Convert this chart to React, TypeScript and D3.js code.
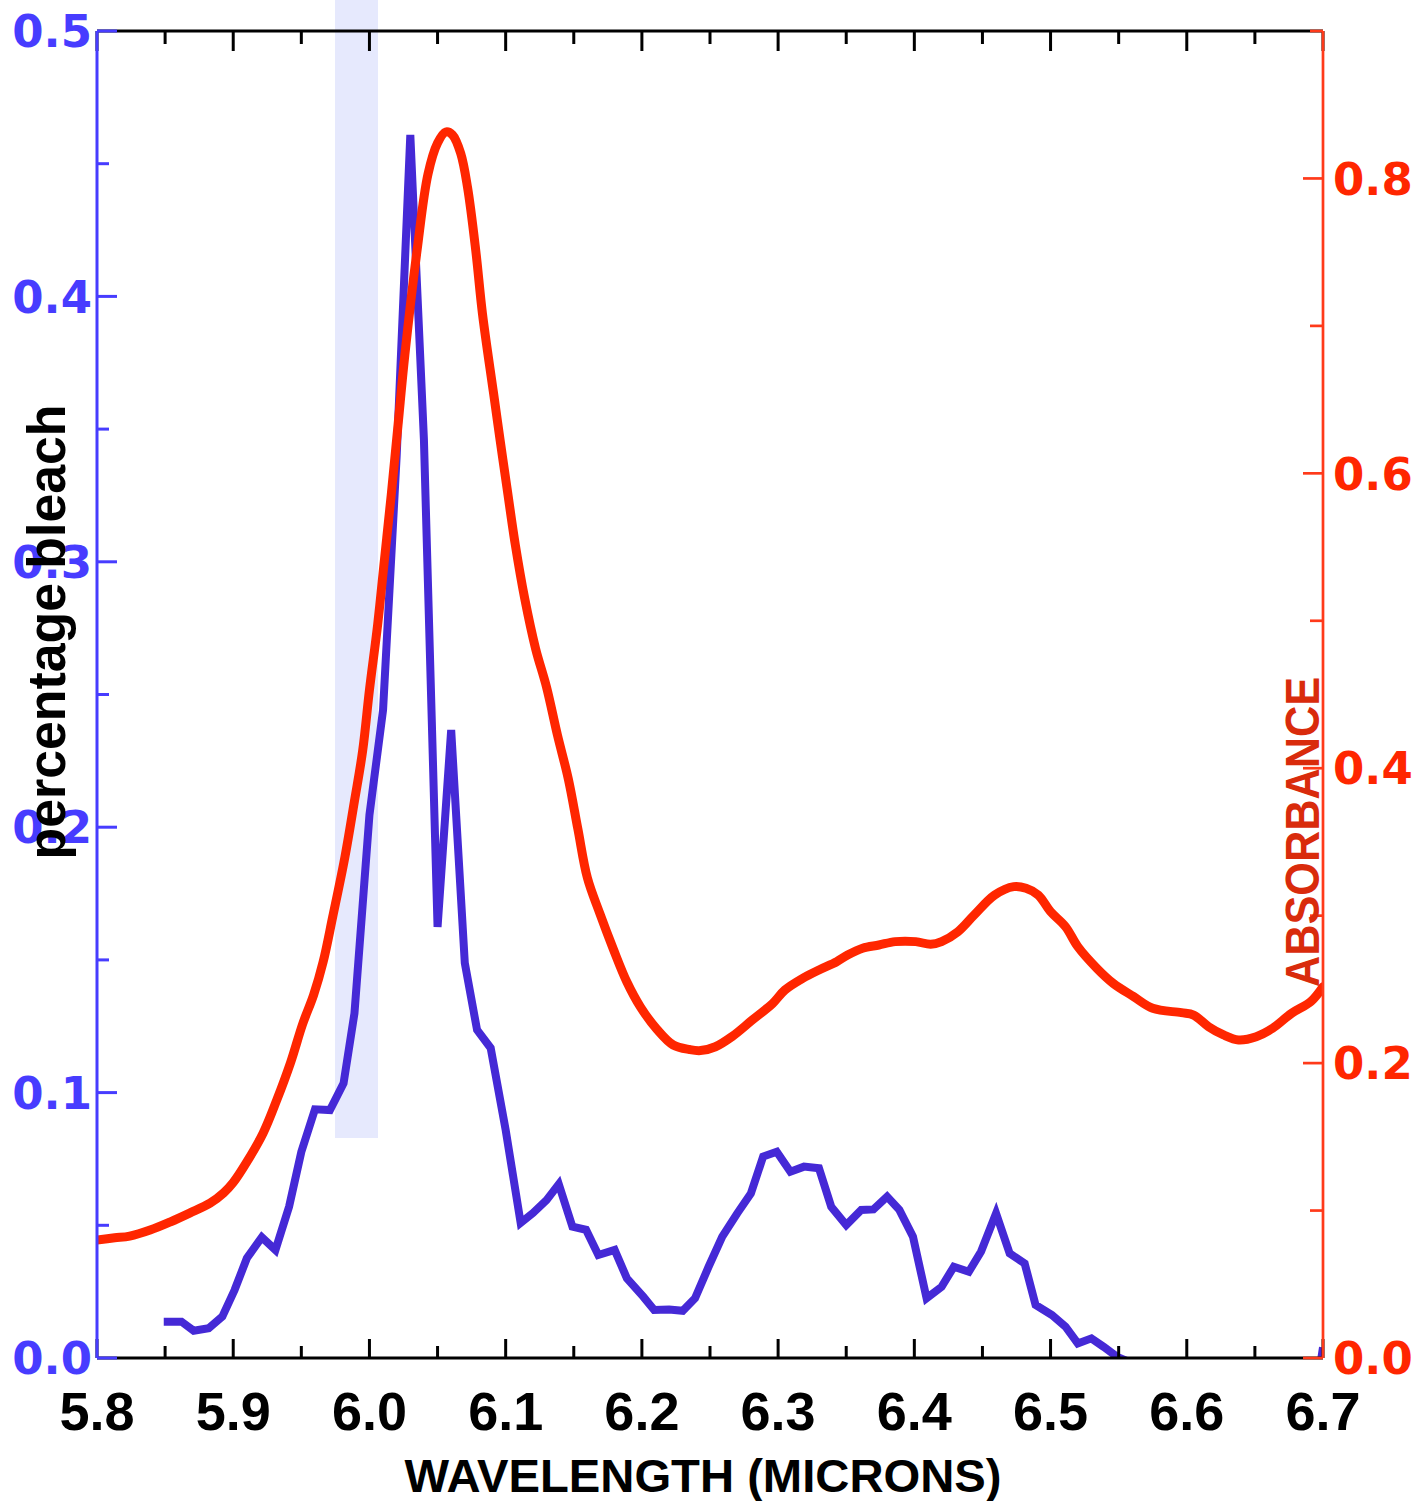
import React from "react";
import * as d3 from "d3";

// Blue series: percentage bleach vs wavelength (microns)
const bleachWavelength = [
  5.849, 5.862, 5.871, 5.882, 5.892, 5.901, 5.91, 5.921, 5.931, 5.941, 5.95, 5.96, 5.971, 5.981, 5.989,
  6.0, 6.01, 6.02, 6.03, 6.04, 6.05, 6.06, 6.07, 6.079, 6.089, 6.1, 6.111, 6.12, 6.13, 6.139, 6.149,
  6.159, 6.168, 6.18, 6.189, 6.201, 6.209, 6.22, 6.23, 6.239, 6.249, 6.259, 6.27, 6.28, 6.289, 6.299,
  6.309, 6.319, 6.33, 6.339, 6.35, 6.361, 6.37, 6.38, 6.389, 6.399, 6.409, 6.42, 6.429, 6.44, 6.449,
  6.46, 6.47, 6.481, 6.489, 6.501, 6.511, 6.52, 6.53, 6.539, 6.549, 6.69, 6.7,
];
const bleachValue = [
  0.0137, 0.0137, 0.0103, 0.0112, 0.0156, 0.0256, 0.0376, 0.0455, 0.0407, 0.057, 0.0777, 0.0937, 0.0934, 0.1035, 0.1299,
  0.2046, 0.2442, 0.34, 0.4608, 0.3459, 0.1624, 0.2366, 0.1488, 0.1236, 0.1168, 0.0859, 0.0509, 0.0546, 0.0595, 0.0655, 0.0495,
  0.0483, 0.0388, 0.0407, 0.03, 0.0231, 0.0181, 0.0183, 0.0178, 0.0225, 0.0344, 0.0457, 0.0545, 0.062, 0.0759, 0.0777,
  0.0702, 0.0721, 0.0715, 0.057, 0.0501, 0.0558, 0.056, 0.0608, 0.0558, 0.0457, 0.0225, 0.0268, 0.0344, 0.0325, 0.0401,
  0.0545, 0.0394, 0.0356, 0.02, 0.0162, 0.0118, 0.0055, 0.0074, 0.0042, 0.0004, -0.03, 0.004,
];

// Red series: absorbance vs wavelength (microns)
const absWavelength = [
  5.8, 5.813, 5.824, 5.839, 5.854, 5.868, 5.883, 5.893, 5.9, 5.91, 5.922, 5.932, 5.942, 5.951, 5.959,
  5.966, 5.973, 5.982, 5.989, 5.995, 6.0, 6.006, 6.011, 6.016, 6.021, 6.026, 6.035, 6.043, 6.05, 6.056, 6.061,
  6.067, 6.072, 6.078, 6.083, 6.091, 6.096, 6.101, 6.107, 6.114, 6.122, 6.13, 6.138, 6.146, 6.153, 6.16,
  6.169, 6.179, 6.189, 6.199, 6.211, 6.223, 6.235, 6.243, 6.254, 6.266, 6.281, 6.296, 6.305, 6.318, 6.33,
  6.343, 6.351, 6.362, 6.374, 6.386, 6.401, 6.412, 6.42, 6.432, 6.444, 6.459, 6.473, 6.482, 6.491, 6.5,
  6.511, 6.52, 6.534, 6.546, 6.561, 6.575, 6.596, 6.605, 6.616, 6.627, 6.638, 6.651, 6.663, 6.677, 6.691, 6.7,
];
const absValue = [
  0.08, 0.0815, 0.0827, 0.0868, 0.0924, 0.0983, 0.105, 0.112, 0.119, 0.133, 0.1526, 0.175, 0.2001, 0.2266, 0.2462,
  0.2686, 0.2991, 0.3398, 0.3778, 0.4117, 0.4531, 0.4972, 0.5413, 0.5854, 0.6329, 0.6804, 0.7515, 0.803, 0.824, 0.8315, 0.8295,
  0.817, 0.794, 0.7515, 0.708, 0.655, 0.622, 0.59, 0.552, 0.515, 0.481, 0.455, 0.4225, 0.3927, 0.3588, 0.3256,
  0.3018, 0.2774, 0.255, 0.238, 0.223, 0.2123, 0.2092, 0.2085, 0.2111, 0.2179, 0.2292, 0.2405, 0.2496, 0.2575, 0.2632,
  0.2688, 0.2733, 0.2779, 0.2801, 0.2824, 0.2824, 0.2806, 0.2824, 0.2891, 0.3005, 0.314, 0.3197, 0.3186, 0.314, 0.3027,
  0.2925, 0.279, 0.2643, 0.2541, 0.2451, 0.2372, 0.2342, 0.2326, 0.2247, 0.2191, 0.2157, 0.2179, 0.2236, 0.2338, 0.2417, 0.2518,
];

// Highlighted band (wavelength range, bleach range)
const bandWavelength = [5.9747, 6.0063];
const bandBleach = [0.0829, 0.512];

// Ticks
const xMajorTicks = [5.8, 5.9, 6.0, 6.1, 6.2, 6.3, 6.4, 6.5, 6.6, 6.7];
const xTickLabels = ["5.8", "5.9", "6.0", "6.1", "6.2", "6.3", "6.4", "6.5", "6.6", "6.7"];
const xMinorTicks = [5.85, 5.95, 6.05, 6.15, 6.25, 6.35, 6.45, 6.55, 6.65];
const leftMajorTicks = [0, 0.1, 0.2, 0.3, 0.4, 0.5];
const leftTickLabels = ["0.0", "0.1", "0.2", "0.3", "0.4", "0.5"];
const leftMinorTicks = [0.05, 0.15, 0.25, 0.35, 0.45];
const rightMajorTicks = [0, 0.2, 0.4, 0.6, 0.8];
const rightTickLabels = ["0.0", "0.2", "0.4", "0.6", "0.8"];
const rightMinorTicks = [0.1, 0.3, 0.5, 0.7, 0.9];

const W = 1413;
const H = 1501;
const L = 97;
const R = 1323;
const T = 31;
const B = 1358;

const BLUE_AXIS = "#473cff";
const BLUE_LINE = "#4529d6";
const RED_LINE = "#ff2600";
const RED_AXIS = "#ff3a1a";
const TITLE_FONT = "'Comic Sans MS', 'Liberation Sans', Arial, sans-serif";
const TICK_FONT = "'DejaVu Sans', Verdana, sans-serif";

export default function App() {
  const x = d3.scaleLinear().domain([5.8, 6.7]).range([L, R]);
  const yL = d3.scaleLinear().domain([0, 0.5]).range([B, T]);
  const yR = d3.scaleLinear().domain([0, 0.9]).range([B, T]);

  const bluePts: [number, number][] = bleachWavelength.map((w, i) => [w, bleachValue[i]]);
  const redPts: [number, number][] = absWavelength.map((w, i) => [w, absValue[i]]);

  const blueLine = d3
    .line<[number, number]>()
    .x((d) => x(d[0]))
    .y((d) => yL(d[1]))
    .curve(d3.curveLinear);
  const redLine = d3
    .line<[number, number]>()
    .x((d) => x(d[0]))
    .y((d) => yR(d[1]))
    .curve(d3.curveCatmullRom.alpha(0.5));

  return (
    <svg
      width={W}
      height={H}
      viewBox={`0 0 ${W} ${H}`}
      style={{ position: "absolute", left: 0, top: 0, display: "block", background: "#fff" }}
    >
      <defs>
        <clipPath id="plotClip">
          <rect x={L} y={T} width={R - L} height={B - T} />
        </clipPath>
      </defs>
      <rect x={0} y={0} width={W} height={H} fill="#fff" />

      {/* highlight band */}
      <rect
        x={x(bandWavelength[0])}
        y={yL(bandBleach[1])}
        width={x(bandWavelength[1]) - x(bandWavelength[0])}
        height={yL(bandBleach[0]) - yL(bandBleach[1])}
        fill="#e6e9fd"
      />

      {/* curves */}
      <g clipPath="url(#plotClip)">
        <path d={blueLine(bluePts) || ""} fill="none" stroke={BLUE_LINE} strokeWidth={8} strokeLinejoin="miter" />
        <path d={redLine(redPts) || ""} fill="none" stroke={RED_LINE} strokeWidth={9} strokeLinejoin="round" strokeLinecap="round" />
      </g>

      {/* black top/bottom axes */}
      <line x1={L} x2={R} y1={B} y2={B} stroke="#000" strokeWidth={3} />
      <line x1={L} x2={R} y1={T} y2={T} stroke="#000" strokeWidth={3} />
      {xMajorTicks.map((t) => (
        <g key={"xM" + t}>
          <line x1={x(t)} x2={x(t)} y1={B} y2={B - 19} stroke="#000" strokeWidth={3} />
          <line x1={x(t)} x2={x(t)} y1={T} y2={T + 20} stroke="#000" strokeWidth={3} />
        </g>
      ))}
      {xMinorTicks.map((t) => (
        <g key={"xm" + t}>
          <line x1={x(t)} x2={x(t)} y1={B} y2={B - 12} stroke="#000" strokeWidth={3} />
          <line x1={x(t)} x2={x(t)} y1={T} y2={T + 13} stroke="#000" strokeWidth={3} />
        </g>
      ))}
      {xMajorTicks.map((t, i) => (
        <text
          key={"xl" + t}
          x={x(t)}
          y={1430}
          textAnchor="middle"
          fontFamily={TITLE_FONT}
          fontWeight="bold"
          fontSize={54}
          fill="#000"
        >
          {xTickLabels[i]}
        </text>
      ))}

      {/* left (blue) axis */}
      <line x1={L} x2={L} y1={T} y2={B} stroke={BLUE_AXIS} strokeWidth={3} />
      {leftMajorTicks.map((t, i) => (
        <g key={"lM" + t}>
          <line x1={L} x2={L + 20} y1={yL(t)} y2={yL(t)} stroke={BLUE_AXIS} strokeWidth={3} />
          <text
            x={92}
            y={yL(t)}
            dy="0.36em"
            textAnchor="end"
            fontFamily={TICK_FONT}
            fontWeight="bold"
            fontSize={45}
            fill={BLUE_AXIS}
          >
            {leftTickLabels[i]}
          </text>
        </g>
      ))}
      {leftMinorTicks.map((t) => (
        <line key={"lm" + t} x1={L} x2={L + 12} y1={yL(t)} y2={yL(t)} stroke={BLUE_AXIS} strokeWidth={3} />
      ))}

      {/* right (red) axis */}
      <line x1={R} x2={R} y1={T} y2={B} stroke={RED_AXIS} strokeWidth={2.7} />
      {rightMajorTicks.map((t, i) => (
        <g key={"rM" + t}>
          <line x1={R} x2={R - 20} y1={yR(t)} y2={yR(t)} stroke={RED_AXIS} strokeWidth={2.7} />
          <text
            x={1333}
            y={yR(t)}
            dy="0.36em"
            textAnchor="start"
            fontFamily={TICK_FONT}
            fontWeight="bold"
            fontSize={45}
            fill={RED_LINE}
          >
            {rightTickLabels[i]}
          </text>
        </g>
      ))}
      {rightMinorTicks.map((t) => (
        <line key={"rm" + t} x1={R} x2={R - 13} y1={yR(t)} y2={yR(t)} stroke={RED_AXIS} strokeWidth={2.7} />
      ))}

      {/* axis titles */}
      <text
        x={703}
        y={1492}
        textAnchor="middle"
        fontFamily={TITLE_FONT}
        fontWeight="bold"
        fontSize={46}
        textLength={597}
        lengthAdjust="spacingAndGlyphs"
        fill="#000"
      >
        WAVELENGTH (MICRONS)
      </text>
      <text
        transform="translate(65,632) rotate(-90)"
        textAnchor="middle"
        fontFamily={TITLE_FONT}
        fontWeight="bold"
        fontSize={54}
        textLength={455}
        lengthAdjust="spacingAndGlyphs"
        fill="#000"
      >
        percentage bleach
      </text>
      <text
        transform="translate(1319,832) rotate(-90)"
        textAnchor="middle"
        fontFamily={TITLE_FONT}
        fontWeight="bold"
        fontSize={48}
        textLength={310}
        lengthAdjust="spacingAndGlyphs"
        fill="#d92b0c"
      >
        ABSORBANCE
      </text>
    </svg>
  );
}
